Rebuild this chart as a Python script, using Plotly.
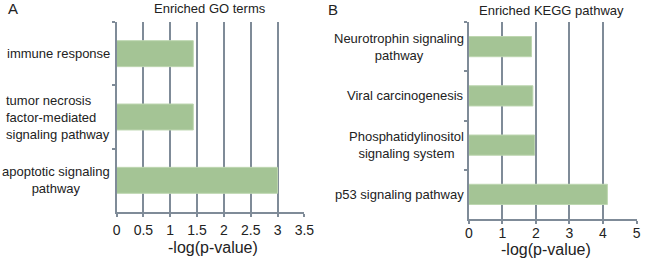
import plotly.graph_objects as go

W, H = 650, 259

# ---- data ----
go_terms = ["immune response",
            "tumor necrosis<br>factor-mediated<br>signaling pathway",
            "apoptotic signaling<br>pathway"]
go_values = [1.43, 1.43, 3.0]
go_align = ["center", "left", "center"]

kegg_terms = ["Neurotrophin signaling<br>pathway",
              "Viral carcinogenesis",
              "Phosphatidylinositol<br>signaling system",
              "p53 signaling pathway"]
kegg_values = [1.87, 1.91, 1.96, 4.13]

go_ticks = [0, 0.5, 1, 1.5, 2, 2.5, 3, 3.5]
kegg_ticks = [0, 1, 2, 3, 4, 5]

FONT = "Liberation Sans, Arial, sans-serif"
GRID = "#7f8b98"
BAR = "#a4c495"
BAR_EDGE = "#bdd6b0"
TXT = "#222222"

def px(x):
    return x / W

def py(y):
    return 1 - y / H

fig = go.Figure()
fig.add_trace(go.Bar(x=go_values, y=go_terms, orientation="h",
                     marker=dict(color=BAR, line=dict(color=BAR_EDGE, width=1)),
                     width=0.41, xaxis="x", yaxis="y", showlegend=False))
fig.add_trace(go.Bar(x=kegg_values, y=kegg_terms, orientation="h",
                     marker=dict(color=BAR, line=dict(color=BAR_EDGE, width=1)),
                     width=0.41, xaxis="x2", yaxis="y2", showlegend=False))

xcommon = dict(showgrid=True, gridcolor=GRID, gridwidth=2, showline=True,
               linecolor=GRID, linewidth=2, ticks="outside", ticklen=3,
               tickcolor=GRID, tickwidth=2, zeroline=False,
               tickfont=dict(family=FONT, size=14, color=TXT), fixedrange=True)
ycommon = dict(type="category", tickson="boundaries", showline=True,
               linecolor=GRID, linewidth=2, ticks="outside", ticklen=3,
               tickcolor=GRID, tickwidth=2, showticklabels=False,
               showgrid=False, zeroline=False, fixedrange=True)

fig.update_layout(
    width=W, height=H,
    margin=dict(l=0, r=0, t=0, b=0),
    paper_bgcolor="white", plot_bgcolor="white",
    font=dict(family=FONT, color=TXT),
    xaxis=dict(domain=[px(115), px(307)], range=[0, 3.5], tickvals=go_ticks,
               ticktext=[str(t) for t in go_ticks], anchor="y",
               ticklabelstandoff=1, **xcommon),
    yaxis=dict(domain=[py(212), py(22)], range=[len(go_terms) - 0.5, -0.5],
               categoryarray=go_terms, anchor="x", **ycommon),
    xaxis2=dict(domain=[px(475), px(646.5)], range=[0, 5], tickvals=kegg_ticks,
                anchor="y2", ticklabelstandoff=-3, **xcommon),
    yaxis2=dict(domain=[py(219), py(22)], range=[len(kegg_terms) - 0.5, -0.5],
                categoryarray=kegg_terms, anchor="x2", **ycommon),
)

ann = []
for t, a in zip(go_terms, go_align):
    ann.append(dict(text=t, x=px(110), y=t, xref="paper", yref="y",
                    xanchor="right", yanchor="middle", align=a,
                    showarrow=False, font=dict(family=FONT, size=13, color=TXT)))
for t in kegg_terms:
    ann.append(dict(text=t, x=px(472), y=t, xref="paper", yref="y2",
                    xanchor="right", yanchor="middle", align="center",
                    showarrow=False, font=dict(family=FONT, size=13, color=TXT)))

# titles, axis titles, panel letters
ann += [
    dict(text="Enriched GO terms", x=px(211), y=py(8), xref="paper", yref="paper",
         xanchor="center", yanchor="middle", showarrow=False,
         font=dict(family=FONT, size=13, color=TXT)),
    dict(text="Enriched KEGG pathway", x=px(560), y=py(10), xref="paper", yref="paper",
         xanchor="center", yanchor="middle", showarrow=False,
         font=dict(family=FONT, size=13, color=TXT)),
    dict(text="-log(p-value)", x=px(214), y=py(247), xref="paper", yref="paper",
         xanchor="center", yanchor="middle", showarrow=False,
         font=dict(family=FONT, size=16, color=TXT)),
    dict(text="-log(p-value)", x=px(554), y=py(249), xref="paper", yref="paper",
         xanchor="center", yanchor="middle", showarrow=False,
         font=dict(family=FONT, size=16, color=TXT)),
    dict(text="A", x=px(2), y=py(8), xref="paper", yref="paper",
         xanchor="left", yanchor="middle", showarrow=False,
         font=dict(family=FONT, size=15, color=TXT)),
    dict(text="B", x=px(329), y=py(9), xref="paper", yref="paper",
         xanchor="left", yanchor="middle", showarrow=False,
         font=dict(family=FONT, size=15, color=TXT)),
]
fig.update_layout(annotations=ann)

fig.write_html("out.html", config={"displayModeBar": False},
               post_script="document.body.style.margin='0';document.body.style.overflow='hidden';")
